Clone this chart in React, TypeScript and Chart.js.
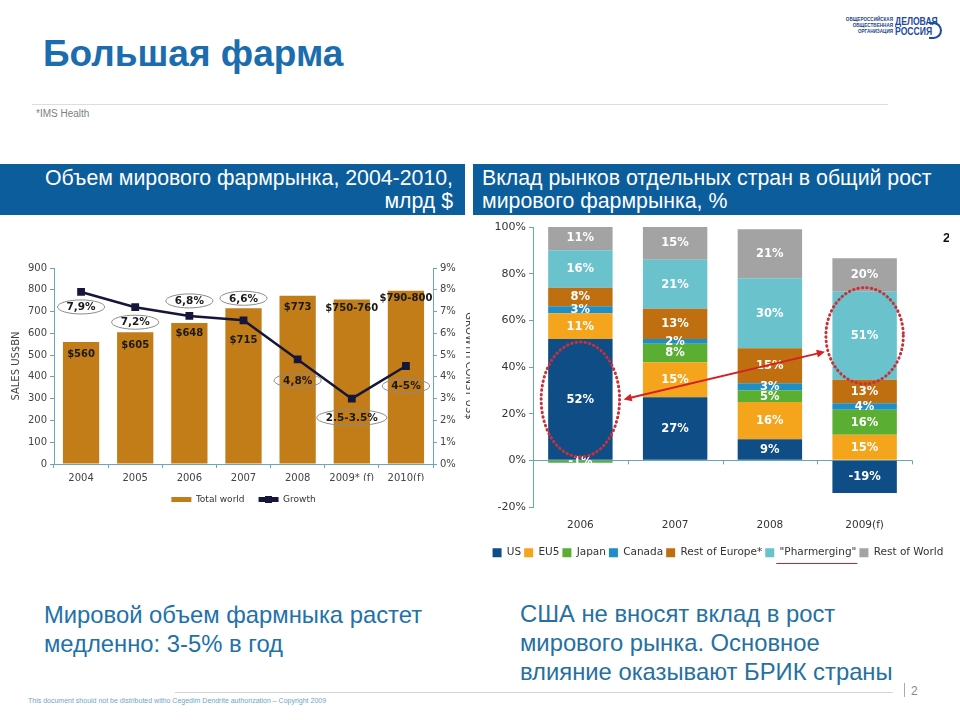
import React, { useEffect, useRef } from "react";
import { Chart, registerables } from "chart.js";

Chart.register(...registerables);

// ---------- Left chart: world pharma market ----------
const salesYears = ["2004", "2005", "2006", "2007", "2008", "2009* (f)", "2010(f)"];
const salesValues = [560, 605, 648, 715, 773, 755, 795];
const salesLabels = ["$560", "$605", "$648", "$715", "$773", "$750-760", "$790-800"];
const growthValues = [7.9, 7.2, 6.8, 6.6, 4.8, 3.0, 4.5];
const growthLabels = ["7,9%", "7,2%", "6,8%", "6,6%", "4,8%", "2.5-3.5%", "4-5%"];

// ---------- Right chart: contribution to growth ----------
const contribYears = ["2006", "2007", "2008", "2009(f)"];
const seriesNames = ["US", "EU5", "Japan", "Canada", "Rest of Europe*", "\"Pharmerging\"", "Rest of World"];
const usValues = [52, 27, 9, -14];
const eu5Values = [11, 15, 16, 11];
const japanValues = [-1, 8, 5, 10.7];
const canadaValues = [3, 2, 3, 2.8];
const restEuropeValues = [8, 13, 15, 10];
const pharmergingValues = [16, 21, 30, 37.8];
const restWorldValues = [11, 15, 21, 14.3];
const usLabels = ["52%", "27%", "9%", "-19%"];
const eu5Labels = ["11%", "15%", "16%", "15%"];
const japanLabels = ["-1%", "8%", "5%", "16%"];
const canadaLabels = ["3%", "2%", "3%", "4%"];
const restEuropeLabels = ["8%", "13%", "15%", "13%"];
const pharmergingLabels = ["16%", "21%", "30%", "51%"];
const restWorldLabels = ["11%", "15%", "21%", "20%"];

const FONT = "DejaVu Sans";
const AXIS = "#6aa7b6";
const BAR = "#c27d18";
const LINE = "#16163a";
const seriesColors = ["#0e4d85", "#f5a51c", "#5aae32", "#1e8fc6", "#bf6f10", "#6ac2cc", "#a3a3a3"];
const seriesValues = [usValues, eu5Values, japanValues, canadaValues, restEuropeValues, pharmergingValues, restWorldValues];
const seriesLabels = [usLabels, eu5Labels, japanLabels, canadaLabels, restEuropeLabels, pharmergingLabels, restWorldLabels];

const salesAnnotPlugin = {
  id: "salesAnnot",
  afterDatasetsDraw(chart: any) {
    const ctx = chart.ctx;
    const barOffsets = [12, 13, 11, 32, 12, 9, 8];
    const growthOffsets = [15, 15, -15, -22, 21, 19, 20];
    ctx.save();
    ctx.textAlign = "center";
    ctx.textBaseline = "middle";
    ctx.fillStyle = "#1a1a1a";
    ctx.font = `bold 10px "${FONT}"`;
    chart.getDatasetMeta(0).data.forEach((el: any, i: number) => {
      ctx.fillText(salesLabels[i], el.x, el.y + barOffsets[i]);
    });
    ctx.font = `bold 10.5px "${FONT}"`;
    chart.getDatasetMeta(1).data.forEach((el: any, i: number) => {
      const cx = el.x;
      const cy = el.y + growthOffsets[i];
      const w = ctx.measureText(growthLabels[i]).width;
      ctx.beginPath();
      ctx.ellipse(cx, cy, w / 2 + 9, i === 5 ? 8 : 7, 0, 0, Math.PI * 2);
      ctx.strokeStyle = "#8a8a8a";
      ctx.lineWidth = 1;
      ctx.stroke();
      ctx.fillStyle = "#1a1a1a";
      ctx.fillText(growthLabels[i], cx, cy + 0.5);
    });
    ctx.restore();
  },
  afterDraw(chart: any) {
    const hb = chart.legend && chart.legend.legendHitBoxes && chart.legend.legendHitBoxes[1];
    if (!hb) return;
    const ctx = chart.ctx;
    ctx.save();
    ctx.fillStyle = LINE;
    ctx.fillRect(hb.left + 10 - 3.5, hb.top + hb.height / 2 - 3.5, 7, 7);
    ctx.restore();
  },
};

const contribAnnotPlugin = {
  id: "contribAnnot",
  afterDatasetsDraw(chart: any) {
    const ctx = chart.ctx;
    ctx.save();
    ctx.textAlign = "center";
    ctx.textBaseline = "middle";
    ctx.font = `bold 11.5px "${FONT}"`;
    ctx.fillStyle = "#ffffff";
    seriesLabels.forEach((labels, d) => {
      chart.getDatasetMeta(d).data.forEach((el: any, i: number) => {
        ctx.fillText(labels[i], el.x, (el.y + el.base) / 2 + 0.5);
      });
    });
    // category tick marks on the zero line
    const xs = chart.scales.x;
    const ys = chart.scales.y;
    const y0 = ys.getPixelForValue(0);
    ctx.strokeStyle = AXIS;
    ctx.lineWidth = 1;
    for (let i = 1; i <= contribYears.length; i++) {
      const x =
        i === contribYears.length
          ? chart.chartArea.right
          : (xs.getPixelForValue(i - 1) + xs.getPixelForValue(i)) / 2;
      ctx.beginPath();
      ctx.moveTo(Math.round(x) + 0.5, y0);
      ctx.lineTo(Math.round(x) + 0.5, y0 + 4);
      ctx.stroke();
    }
    ctx.restore();
  },
  afterDraw(chart: any) {
    const ctx = chart.ctx;
    const e1 = chart.getDatasetMeta(0).data[0];
    const e2 = chart.getDatasetMeta(5).data[3];
    const c1 = { x: e1.x, y: (e1.y + e1.base) / 2, rx: e1.width / 2 + 7, ry: Math.abs(e1.base - e1.y) / 2 - 3 };
    const c2 = { x: e2.x, y: (e2.y + e2.base) / 2, rx: e2.width / 2 + 6.5, ry: Math.abs(e2.base - e2.y) / 2 + 4 };
    ctx.save();
    ctx.strokeStyle = "#c9303a";
    ctx.lineWidth = 3;
    ctx.lineCap = "round";
    ctx.setLineDash([0.5, 4]);
    [c1, c2].forEach((c) => {
      ctx.beginPath();
      ctx.ellipse(c.x, c.y, c.rx, c.ry, 0, 0, Math.PI * 2);
      ctx.stroke();
    });
    ctx.setLineDash([]);
    // double-headed arrow
    const ax = c1.x + c1.rx + 4, ay = c1.y;
    const bx = c2.x - c2.rx - 1, by = c2.y + 16;
    const ang = Math.atan2(by - ay, bx - ax);
    ctx.strokeStyle = "#d42222";
    ctx.fillStyle = "#d42222";
    ctx.lineWidth = 2;
    ctx.lineCap = "butt";
    ctx.beginPath();
    ctx.moveTo(ax + Math.cos(ang) * 6, ay + Math.sin(ang) * 6);
    ctx.lineTo(bx - Math.cos(ang) * 6, by - Math.sin(ang) * 6);
    ctx.stroke();
    const head = (x: number, y: number, a: number) => {
      ctx.beginPath();
      ctx.moveTo(x, y);
      ctx.lineTo(x - Math.cos(a - 0.45) * 9, y - Math.sin(a - 0.45) * 9);
      ctx.lineTo(x - Math.cos(a + 0.45) * 9, y - Math.sin(a + 0.45) * 9);
      ctx.closePath();
      ctx.fill();
    };
    head(bx, by, ang);
    head(ax, ay, ang + Math.PI);
    // underline below "Pharmerging" legend entry
    const hb = chart.legend && chart.legend.legendHitBoxes && chart.legend.legendHitBoxes[5];
    if (hb) {
      ctx.strokeStyle = "#c0282e";
      ctx.lineWidth = 1;
      ctx.beginPath();
      ctx.moveTo(hb.left + 9 + 2, hb.top + hb.height + 5.5);
      ctx.lineTo(hb.left + hb.width + 1, hb.top + hb.height + 5.5);
      ctx.stroke();
    }
    ctx.restore();
  },
};

export default function App() {
  const leftRef = useRef<HTMLCanvasElement>(null);
  const rightRef = useRef<HTMLCanvasElement>(null);

  useEffect(() => {
    const tickFont = { family: FONT, size: 10 };
    const left = new Chart(leftRef.current as HTMLCanvasElement, {
      type: "bar",
      data: {
        labels: salesYears,
        datasets: [
          {
            type: "bar",
            label: "Total world",
            data: salesValues,
            backgroundColor: BAR,
            yAxisID: "y",
            order: 2,
            barPercentage: 0.67,
            categoryPercentage: 1,
          } as any,
          {
            type: "line",
            label: "Growth",
            data: growthValues,
            yAxisID: "y2",
            borderColor: LINE,
            backgroundColor: LINE,
            borderWidth: 2.5,
            pointStyle: "rect",
            pointRadius: 5.5,
            pointBackgroundColor: LINE,
            pointBorderColor: LINE,
            pointBorderWidth: 0,
            order: 1,
            tension: 0,
          } as any,
        ],
      },
      options: {
        responsive: false,
        animation: false,
        layout: { padding: { top: 18, bottom: 3, left: 0, right: 0 } },
        plugins: {
          tooltip: { enabled: false },
          legend: {
            position: "bottom",
            fullSize: false,
            labels: {
              boxWidth: 20,
              boxHeight: 5,
              padding: 14,
              color: "#333",
              font: { family: FONT, size: 9 },
              sort: (a: any, b: any) => a.datasetIndex - b.datasetIndex,
              generateLabels: (chart: any) => {
                const items = (Chart.defaults.plugins.legend.labels as any).generateLabels(chart);
                return items.map((it: any) => ({ ...it, lineWidth: 0, strokeStyle: "rgba(0,0,0,0)" }));
              },
            },
          },
        },
        scales: {
          x: {
            grid: { display: true, drawOnChartArea: false, offset: true, tickLength: 4, color: AXIS },
            border: { color: AXIS },
            ticks: { font: tickFont, color: "#444", padding: 4 },
            afterFit: (s: any) => {
              s.height = 17;
            },
          },
          y: {
            position: "left",
            min: 0,
            max: 900,
            ticks: { stepSize: 100, font: tickFont, color: "#444", padding: 3 },
            grid: { drawOnChartArea: false, tickLength: 4, color: AXIS },
            border: { color: AXIS },
            title: {
              display: true,
              text: "SALES US$BN",
              font: { family: FONT, size: 10 },
              color: "#444",
              padding: { top: 10, bottom: 0 },
            },
            afterFit: (s: any) => {
              s.width = 54;
            },
          },
          y2: {
            position: "right",
            min: 0,
            max: 9,
            ticks: { stepSize: 1, font: tickFont, color: "#444", padding: 3, callback: (v: any) => v + "%" },
            grid: { drawOnChartArea: false, tickLength: 4, color: AXIS },
            border: { color: AXIS },
            title: {
              display: true,
              text: "GROWTH CONST US$",
              font: { family: FONT, size: 10 },
              color: "#444",
              padding: { top: -5, bottom: 0 },
            },
            afterFit: (s: any) => {
              s.width = 37;
            },
          },
        },
      } as any,
      plugins: [salesAnnotPlugin as any],
    });

    const right = new Chart(rightRef.current as HTMLCanvasElement, {
      type: "bar",
      data: {
        labels: contribYears,
        datasets: seriesNames.map((name, d) => ({
          label: name,
          data: seriesValues[d],
          backgroundColor: seriesColors[d],
          barPercentage: 0.68,
          categoryPercentage: 1,
        })),
      },
      options: {
        responsive: false,
        animation: false,
        layout: { padding: { top: 12, bottom: 7, left: 0, right: 0 } },
        plugins: {
          tooltip: { enabled: false },
          legend: {
            position: "bottom",
            labels: {
              boxWidth: 9,
              boxHeight: 9,
              padding: 3,
              color: "#333",
              font: { family: FONT, size: 10.5 },
            },
          },
        },
        scales: {
          x: {
            stacked: true,
            grid: { display: false, drawTicks: false },
            border: { display: false },
            ticks: { font: { family: FONT, size: 10.5 }, color: "#333", padding: 12 },
            afterFit: (s: any) => {
              s.height = 37.5;
            },
          },
          y: {
            stacked: true,
            min: -20,
            max: 100,
            ticks: {
              stepSize: 20,
              font: { family: FONT, size: 11 },
              color: "#333",
              padding: 3,
              callback: (v: any) => v + "%",
            },
            grid: {
              drawOnChartArea: true,
              tickLength: 4,
              tickColor: AXIS,
              color: (c: any) => (c.tick && c.tick.value === 0 ? AXIS : "rgba(0,0,0,0)"),
            },
            border: { color: AXIS },
            afterFit: (s: any) => {
              s.width = 57;
            },
          },
          yPad: {
            position: "right",
            min: 0,
            max: 1,
            ticks: { display: false },
            grid: { display: false, drawTicks: false },
            border: { display: false },
            afterFit: (s: any) => {
              s.width = 48;
            },
          },
        },
      } as any,
      plugins: [contribAnnotPlugin as any],
    });

    return () => {
      left.destroy();
      right.destroy();
    };
  }, []);

  const abs = (l: number, t: number, extra: React.CSSProperties = {}): React.CSSProperties => ({
    position: "absolute",
    left: l,
    top: t,
    ...extra,
  });

  return (
    <div
      style={{
        position: "absolute",
        left: 0,
        top: 0,
        width: 960,
        height: 720,
        background: "#ffffff",
        overflow: "hidden",
        fontFamily: '"Liberation Sans", Arial, sans-serif',
      }}
    >
      {/* Title */}
      <div style={abs(43, 35, { fontSize: 37, lineHeight: "37px", fontWeight: "bold", color: "#1b6dae", whiteSpace: "nowrap" })}>
        Большая фарма
      </div>

      {/* Logo */}
      <div style={abs(838, 17, { width: 55, textAlign: "right", fontSize: 4.6, lineHeight: "6px", fontWeight: "bold", color: "#1d3f8e", whiteSpace: "nowrap" })}>
        <div>ОБЩЕРОССИЙСКАЯ</div>
        <div>ОБЩЕСТВЕННАЯ</div>
        <div>ОРГАНИЗАЦИЯ</div>
      </div>
      <div style={abs(895, 16, { fontSize: 10.5, lineHeight: "10px", fontWeight: "bold", color: "#1d4aa0", whiteSpace: "nowrap", transform: "scaleX(0.82)", transformOrigin: "left top" })}>
        <div>ДЕЛОВАЯ</div>
        <div>РОССИЯ</div>
      </div>
      <div
        style={abs(929, 22, {
          width: 11,
          height: 13,
          border: "2.5px solid #1d4aa0",
          borderLeft: "none",
          borderRadius: "0 9px 9px 0",
        })}
      />

      {/* Source line */}
      <div style={abs(32, 104, { width: 856, height: 1, background: "#dddddd" })} />
      <div style={abs(36, 108, { fontSize: 10, lineHeight: "12px", color: "#808080" })}>*IMS Health</div>

      {/* Header bands */}
      <div style={abs(0, 164, { width: 465, height: 51, background: "#0b5d9c" })} />
      <div
        style={abs(0, 167, {
          width: 453,
          textAlign: "right",
          color: "#ffffff",
          fontSize: 21.3,
          lineHeight: "23px",
          whiteSpace: "nowrap",
        })}
      >
        <div>Объем мирового фармрынка, 2004-2010,</div>
        <div>млрд $</div>
      </div>
      <div style={abs(473, 164, { width: 487, height: 51, background: "#0b5d9c" })} />
      <div style={abs(482, 167, { color: "#ffffff", fontSize: 21.3, lineHeight: "23px", whiteSpace: "nowrap" })}>
        <div>Вклад рынков отдельных стран в общий рост</div>
        <div>мирового фармрынка, %</div>
      </div>

      {/* Charts */}
      <canvas ref={leftRef} width={470} height={267} style={abs(0, 250, { width: 470, height: 267 })} />
      <canvas ref={rightRef} width={484} height={360} style={abs(476, 215, { width: 484, height: 360 })} />
      <div style={abs(943, 231, { width: 6, height: 14, overflow: "hidden", fontSize: 13, lineHeight: "14px", fontWeight: "bold", color: "#111" })}>
        2
      </div>

      {/* Conclusions */}
      <div style={abs(44, 600, { fontSize: 23.8, lineHeight: "29px", color: "#2271aa", whiteSpace: "nowrap" })}>
        <div>Мировой объем фармныка растет</div>
        <div>медленно: 3-5% в год</div>
      </div>
      <div style={abs(520, 599, { fontSize: 23.8, lineHeight: "29px", color: "#26709f", whiteSpace: "nowrap" })}>
        <div>США не вносят вклад в рост</div>
        <div>мирового рынка. Основное</div>
        <div>влияние оказывают БРИК страны</div>
      </div>

      {/* Footer */}
      <div style={abs(175, 692, { width: 718, height: 1, background: "#d4d4d4" })} />
      <div style={abs(904, 683, { width: 1, height: 14, background: "#aaaaaa" })} />
      <div style={abs(911, 684, { fontSize: 12, lineHeight: "14px", color: "#8a8a8a" })}>2</div>
      <div style={abs(28, 696, { fontSize: 7, lineHeight: "9px", color: "#6fa6c6", whiteSpace: "nowrap" })}>
        This document should not be distributed witho Cegedim Dendrite authorization – Copyright 2009
      </div>
    </div>
  );
}
